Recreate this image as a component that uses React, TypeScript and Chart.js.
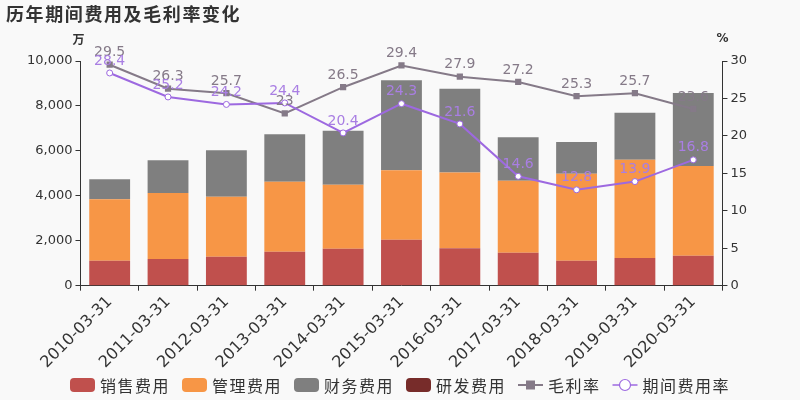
import React, { useEffect, useRef } from "react";
import { Chart, registerables } from "chart.js";

Chart.register(...registerables);

const categories = ["2010-03-31","2011-03-31","2012-03-31","2013-03-31","2014-03-31","2015-03-31","2016-03-31","2017-03-31","2018-03-31","2019-03-31","2020-03-31"];
const salesExpense = [1110, 1185, 1290, 1510, 1645, 2040, 1670, 1470, 1110, 1230, 1330];
const adminExpense = [2740, 2935, 2665, 3110, 2845, 3100, 3370, 3200, 3870, 4370, 4000];
const financeExpense = [890, 1465, 2075, 2120, 2400, 4000, 3730, 1940, 1420, 2100, 3250];
const rdExpense = [0, 0, 0, 0, 0, 0, 0, 0, 0, 0, 0];
const grossMargin = [29.5, 26.3, 25.7, 23, 26.5, 29.4, 27.9, 27.2, 25.3, 25.7, 23.6];
const periodRate = [28.4, 25.2, 24.2, 24.4, 20.4, 24.3, 21.6, 14.6, 12.8, 13.9, 16.8];
const leftTicks = [0, 2000, 4000, 6000, 8000, 10000];
const rightTicks = [0, 5, 10, 15, 20, 25, 30];
const titleText = "历年期间费用及毛利率变化";

const FONT = "'DejaVu Sans', 'Noto Sans CJK SC', sans-serif";
const CJK = "'Noto Sans CJK SC', 'DejaVu Sans', sans-serif";
const C_RED = "#c0504d";
const C_ORANGE = "#f79646";
const C_GRAY = "#7f7f7f";
const C_DARK = "#772c2a";
const C_MARGIN = "#857a88";
const C_PERIOD = "#9d69e0";
const C_PERIOD_LABEL = "#a97ee3";

function roundRect(ctx: CanvasRenderingContext2D, x: number, y: number, w: number, h: number, r: number) {
  ctx.beginPath();
  ctx.moveTo(x + r, y); ctx.lineTo(x + w - r, y); ctx.quadraticCurveTo(x + w, y, x + w, y + r);
  ctx.lineTo(x + w, y + h - r); ctx.quadraticCurveTo(x + w, y + h, x + w - r, y + h);
  ctx.lineTo(x + r, y + h); ctx.quadraticCurveTo(x, y + h, x, y + h - r);
  ctx.lineTo(x, y + r); ctx.quadraticCurveTo(x, y, x + r, y);
  ctx.fill();
}

const bgPlugin = {
  id: "bg",
  beforeDraw(chart: any) {
    const ctx = chart.ctx;
    ctx.save();
    ctx.fillStyle = "#f9f9f9";
    ctx.fillRect(0, 0, chart.width, chart.height);
    ctx.restore();
  },
};

const overlayPlugin = {
  id: "overlay",
  afterDatasetsDraw(chart: any) {
    const ctx = chart.ctx;
    ctx.save();
    // value labels
    ctx.font = `14px ${FONT}`;
    ctx.textAlign = "center";
    ctx.textBaseline = "bottom";
    [4, 5].forEach((di) => {
      const meta = chart.getDatasetMeta(di);
      const ds = chart.data.datasets[di];
      ctx.fillStyle = di === 4 ? C_MARGIN : C_PERIOD_LABEL;
      meta.data.forEach((pt: any, i: number) => {
        ctx.fillText(String(ds.data[i]), pt.x, pt.y - 5);
      });
    });
    // unit labels
    ctx.fillStyle = "#333";
    ctx.font = `bold 12px ${CJK}`;
    ctx.textBaseline = "middle";
    const ya = chart.scales.y;
    const yb = chart.scales.y1;
    ctx.fillText("万", ya.right - 2, chart.chartArea.top - 22);
    ctx.font = `bold 12px ${FONT}`;
    ctx.fillText("%", yb.left, chart.chartArea.top - 22);

    // title
    ctx.textAlign = "left";
    ctx.font = `bold 18px ${CJK}`;
    (ctx as any).letterSpacing = "1.6px";
    ctx.fillText(titleText, 6, 14);

    // legend
    ctx.font = `16px ${CJK}`;
    (ctx as any).letterSpacing = "1.5px";
    const items = chart.data.datasets.map((ds: any, i: number) => ({ label: ds.label, idx: i }));
    const iconW = 25, gapIcon = 5, gapItem = 12;
    const widths = items.map((it: any) => iconW + gapIcon + ctx.measureText(it.label).width);
    const total = widths.reduce((a: number, b: number) => a + b, 0) + gapItem * (items.length - 1);
    let x = (chart.width - total) / 2;
    const cy = 385;
    const colors = [C_RED, C_ORANGE, C_GRAY, C_DARK];
    items.forEach((it: any, k: number) => {
      if (it.idx < 4) {
        ctx.fillStyle = colors[it.idx];
        roundRect(ctx, x, cy - 7, iconW, 14, 4);
      } else if (it.idx === 4) {
        ctx.strokeStyle = C_MARGIN;
        ctx.lineWidth = 2;
        ctx.beginPath(); ctx.moveTo(x, cy); ctx.lineTo(x + iconW, cy); ctx.stroke();
        ctx.fillStyle = C_MARGIN;
        ctx.fillRect(x + iconW / 2 - 4.5, cy - 4.5, 9, 9);
      } else {
        ctx.strokeStyle = C_PERIOD;
        ctx.lineWidth = 1.5;
        ctx.beginPath(); ctx.moveTo(x, cy); ctx.lineTo(x + iconW, cy); ctx.stroke();
        ctx.fillStyle = "#ffffff";
        ctx.lineWidth = 1.2;
        ctx.beginPath(); ctx.arc(x + iconW / 2, cy, 5.5, 0, Math.PI * 2); ctx.fill(); ctx.stroke();
      }
      ctx.fillStyle = "#333";
      ctx.textBaseline = "middle";
      ctx.fillText(it.label, x + iconW + gapIcon, cy + 1);
      x += widths[k] + gapItem;
    });
    ctx.restore();
  },
};

export default function App() {
  const ref = useRef<HTMLCanvasElement | null>(null);
  useEffect(() => {
    if (!ref.current) return;
    const chart = new Chart(ref.current, {
      type: "bar",
      data: {
        labels: categories,
        datasets: [
          { type: "bar", label: "销售费用", data: salesExpense, backgroundColor: C_RED, stack: "s", yAxisID: "y", order: 2 },
          { type: "bar", label: "管理费用", data: adminExpense, backgroundColor: C_ORANGE, stack: "s", yAxisID: "y", order: 2 },
          { type: "bar", label: "财务费用", data: financeExpense, backgroundColor: C_GRAY, stack: "s", yAxisID: "y", order: 2 },
          { type: "bar", label: "研发费用", data: rdExpense, backgroundColor: C_DARK, stack: "s", yAxisID: "y", order: 2 },
          { type: "line", label: "毛利率", data: grossMargin, borderColor: C_MARGIN, backgroundColor: C_MARGIN, borderWidth: 2, pointStyle: "rect", pointRadius: 3, yAxisID: "y1", order: 1 } as any,
          { type: "line", label: "期间费用率", data: periodRate, borderColor: C_PERIOD, backgroundColor: "#ffffff", borderWidth: 2, pointStyle: "circle", pointRadius: 3, pointBorderWidth: 1, yAxisID: "y1", order: 0 } as any,
        ],
      },
      options: {
        animation: false,
        responsive: false,
        devicePixelRatio: 1,
        layout: { padding: { left: 24, right: 50, top: 61, bottom: 26 } },
        datasets: { bar: { barPercentage: 0.7, categoryPercentage: 1 } } as any,
        plugins: {
          tooltip: { enabled: false },
          title: { display: false },
          legend: { display: false },
        },
        scales: {
          x: {
            stacked: true,
            grid: { display: true, drawOnChartArea: false, drawTicks: true, tickLength: 5, color: "#333" },
            border: { color: "#333", width: 1 },
            ticks: { color: "#333", font: { family: FONT, size: 16 }, maxRotation: 45, minRotation: 45, padding: 2 },
          },
          y: {
            stacked: true,
            position: "left",
            min: 0,
            max: 10000,
            afterBuildTicks: (s: any) => { s.ticks = leftTicks.map((v) => ({ value: v })); },
            grid: { drawOnChartArea: false, drawTicks: true, tickLength: 5, color: "#333" },
            border: { color: "#333", width: 1 },
            ticks: { color: "#333", font: { family: FONT, size: 13 }, padding: 3, callback: (v: any) => Number(v).toLocaleString("en-US") },
          },
          y1: {
            position: "right",
            min: 0,
            max: 30,
            afterBuildTicks: (s: any) => { s.ticks = rightTicks.map((v) => ({ value: v })); },
            grid: { drawOnChartArea: false, drawTicks: true, tickLength: 5, color: "#333" },
            border: { color: "#333", width: 1 },
            ticks: { color: "#333", font: { family: FONT, size: 13 }, padding: 3 },
          },
        },
      },
      plugins: [bgPlugin, overlayPlugin],
    });
    return () => chart.destroy();
  }, []);
  return (
    <div style={{ position: "fixed", left: 0, top: 0, width: 800, height: 400, background: "#f9f9f9" }}>
      <canvas ref={ref} width={800} height={400} style={{ width: 800, height: 400 }} />
    </div>
  );
}
